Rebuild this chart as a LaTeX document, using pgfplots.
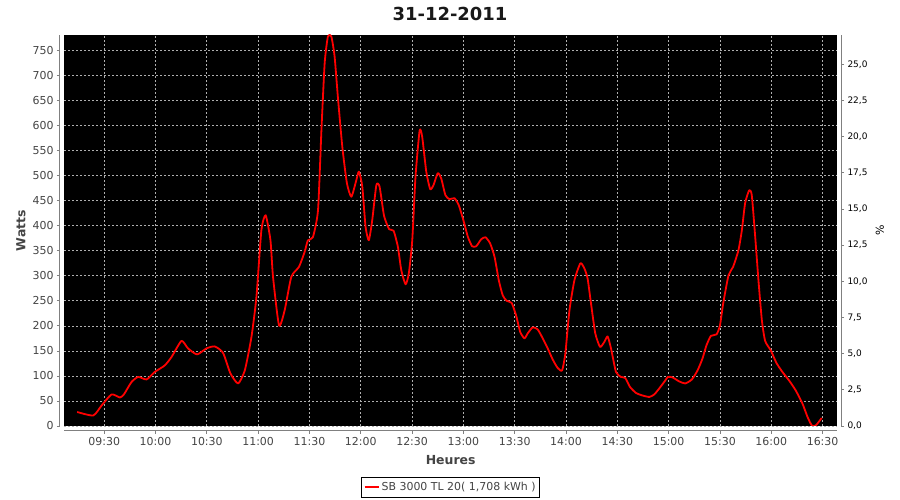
\documentclass[border=0pt]{standalone}
\usepackage{pgfplots}
\pgfplotsset{compat=1.18}
\usepackage{fontspec}
\setmainfont{DejaVu Sans}
\definecolor{gridgray}{RGB}{175,175,175}
\definecolor{axisgray}{RGB}{128,128,128}
\definecolor{ticktext}{RGB}{68,68,68}
\begin{document}
\begin{tikzpicture}
\pgfplotsset{
  base/.style={
    scale only axis, width=773.3bp, height=391bp,
    at={(64bp,74bp)}, anchor=south west,
    xmin=546.5, xmax=998.6,
    /pgf/number format/assume math mode=true,
    tick align=outside, major tick length=3bp,
    tick style={axisgray, line width=0.8bp},
    tick label style={font=\fontsize{11}{13}\selectfont, text=ticktext},
  }
}
\begin{axis}[base,
  ymin=0, ymax=781,
  axis x line*=bottom, axis y line*=left,
  axis x line shift=4.5bp, axis y line shift=4bp,
  x axis line style={-, axisgray, line width=1bp},
  y axis line style={-, axisgray, line width=1bp},
  axis background/.style={fill=black},
  xtick={570,600,630,660,690,720,750,780,810,840,870,900,930,960,990},
  xticklabels={09:30,10:00,10:30,11:00,11:30,12:00,12:30,13:00,13:30,14:00,14:30,15:00,15:30,16:00,16:30},
  ytick={0,50,100,150,200,250,300,350,400,450,500,550,600,650,700,750},
  grid=major,
  major grid style={gridgray, dash pattern=on 2bp off 2bp, line width=0.7bp},
  ylabel={Watts},
  ylabel style={at={(axis description cs:-0.0556,0.5)}, anchor=center, font=\bfseries\fontsize{12.5}{14}\selectfont, text=ticktext},
  xlabel={Heures},
  xlabel style={at={(axis description cs:0.5,-0.087)}, anchor=center, font=\bfseries\fontsize{12.5}{14}\selectfont, text=ticktext},
  legend style={at={(axis description cs:0.5,-0.157)}, anchor=center, draw=black, line width=0.8bp, font=\fontsize{11}{13}\selectfont, text=ticktext, inner xsep=2bp, inner ysep=3bp},
  legend image code/.code={\draw[red, line width=2bp] (0bp,0bp) -- (14bp,0bp);},
]
\addplot[red, line width=1.8bp, line join=round, smooth, tension=0.35] coordinates {
(554.2,28) (563.6,21) (568.5,41) (574.3,63) (579.2,57) (581.5,63) (586.0,88) (589.9,98)
(594.8,93) (599.6,108) (605.4,121) (609.4,138) (615.2,170) (619.0,155) (624.3,143) (629.8,155)
(634.6,159) (639.5,146) (643.8,105) (648.3,85) (652.2,111) (656.1,178) (659.0,258) (661.9,391)
(664.4,421) (667.2,371) (668.7,298) (672.2,201) (675.5,231) (679.4,298) (683.9,318) (687.2,348)
(689.1,371) (692.0,377) (695.0,431) (697.0,591) (698.9,725) (700.8,778) (702.8,778) (704.7,738)
(706.6,658) (709.2,558) (711.9,485) (714.5,458) (717.4,491) (718.9,508) (720.9,478) (722.8,398)
(724.7,371) (726.7,411) (729.1,481) (731.0,478) (733.6,420) (736.6,393) (739.2,390) (741.7,358)
(743.7,311) (746.2,283) (748.1,305) (750.1,371) (752.0,498) (754.4,590) (755.9,578) (758.3,508)
(760.6,473) (762.5,481) (765.0,505) (767.0,495) (769.5,461) (771.9,453) (774.8,455) (777.3,441)
(780.0,411) (782.6,378) (785.1,359) (787.5,359) (790.4,373) (792.9,377) (795.6,365) (798.2,338)
(800.7,291) (803.0,261) (805.3,250) (808.2,246) (810.8,221) (813.2,188) (815.7,175) (817.6,185)
(820.5,197) (823.4,193) (826.4,175) (829.3,155) (832.2,133) (835.1,116) (837.7,111) (839.6,145)
(842.0,231) (844.9,291) (848.4,325) (850.7,315) (852.6,295) (854.6,245) (857.1,185) (859.9,158)
(862.4,168) (864.3,179) (866.3,155) (869.2,108) (872.1,98) (874.6,96) (877.4,78) (880.9,66)
(884.7,61) (888.7,58) (891.6,63) (894.5,75) (897.4,88) (899.6,98) (902.3,97) (906.2,89)
(909.7,85) (913.6,93) (916.9,111) (919.8,135) (922.1,161) (924.7,180) (928.0,183) (930.0,201)
(931.9,245) (935.0,301) (937.7,318) (940.8,351) (942.8,391) (944.7,445) (947.1,471) (948.6,461)
(950.6,378) (952.5,291) (954.5,211) (956.4,170) (959.7,151) (963.0,126) (966.5,108) (970.4,91)
(974.3,71) (978.2,45) (981.2,18) (983.7,1) (986.0,1) (989.5,16)
};
\addlegendentry{SB 3000 TL 20( 1,708 kWh )}
\end{axis}
\begin{axis}[base,
  ymin=0, ymax=27.02,
  axis x line=none, axis y line*=right,
  axis y line shift=3.7bp,
  y axis line style={-, axisgray, line width=1bp},
  ytick={0,2.5,5,7.5,10,12.5,15,17.5,20,22.5,25},
  yticklabel style={/pgf/number format/.cd, fixed, fixed zerofill, precision=1, use comma},
  tick label style={font=\fontsize{9}{11}\selectfont, text=black},
  ylabel={\%},
  ylabel style={at={(axis description cs:1.0552,0.5)}, anchor=center, font=\fontsize{11}{13}\selectfont, text=black},
]
\addplot[draw=none] coordinates {(600,0) (700,10)};
\end{axis}
\node[font=\bfseries\fontsize{18}{21}\selectfont, text=black!90] at (450bp,486bp) {31-12-2011};
\pgfresetboundingbox
\path[use as bounding box] (0,0) rectangle (900bp,500bp);
\end{tikzpicture}
\end{document}
